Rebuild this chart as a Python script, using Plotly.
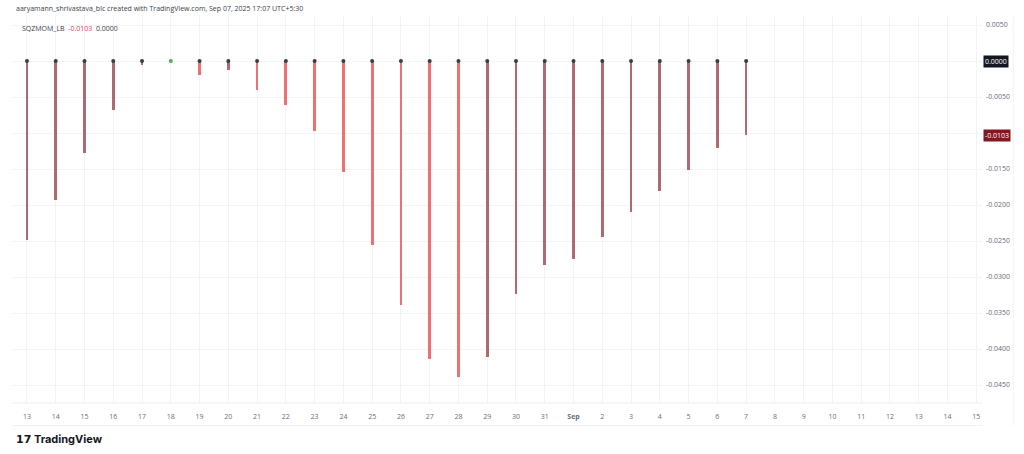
import plotly.graph_objects as go

# ---- data ----
day_labels = ["13", "14", "15", "16", "17", "18", "19", "20", "21", "22", "23", "24",
              "25", "26", "27", "28", "29", "30", "31", "Sep", "2", "3", "4", "5",
              "6", "7", "8", "9", "10", "11", "12", "13", "14", "15"]
momentum = [-0.0249, -0.0193, -0.0128, -0.0068, -0.0005, -0.0000, -0.0019, -0.0013,
            -0.0040, -0.0061, -0.0097, -0.0154, -0.0256, -0.0339, -0.0414, -0.0439,
            -0.0411, -0.0324, -0.0283, -0.0275, -0.0244, -0.0210, -0.0181, -0.0151,
            -0.0121, -0.0103]
squeeze_on = [True, True, True, True, True, False, True, True, True, True, True, True,
              True, True, True, True, True, True, True, True, True, True, True, True,
              True, True]
price_ticks = [0.005, 0.0, -0.005, -0.01, -0.015, -0.02, -0.025, -0.03, -0.035,
               -0.04, -0.045]
last_value = -0.0103

# ---- styling ----
RED = "#ef7070"
MAROON = "#ad6a70"
x_idx = list(range(len(momentum)))
bar_colors = []
for i, v in enumerate(momentum):
    if i > 0 and v < momentum[i - 1]:
        bar_colors.append(RED)
    else:
        bar_colors.append(MAROON)
dot_colors = ["#3a3d47" if s else "#4caf50" for s in squeeze_on]

fig = go.Figure()
fig.add_trace(go.Bar(x=x_idx, y=momentum, width=0.095, marker=dict(color=bar_colors, line=dict(width=0)),
                     hoverinfo="y"))
fig.add_trace(go.Scatter(x=x_idx, y=[0] * len(momentum), mode="markers",
                         marker=dict(size=4, color=dot_colors), hoverinfo="skip"))

tick_text = []
for v in price_ticks:
    if abs(v) < 1e-12 or abs(v + 0.01) < 1e-12:
        tick_text.append("")
    else:
        tick_text.append(f"{v:.4f}")

x_text = ["<b>Sep</b>" if t == "Sep" else t for t in day_labels]

fig.update_layout(
    width=1024, height=454,
    margin=dict(l=12, r=42, t=15, b=51, autoexpand=False),
    paper_bgcolor="white", plot_bgcolor="white",
    showlegend=False,
    bargap=0,
    font=dict(family="Open Sans, DejaVu Sans, sans-serif", size=7, color="#6a6d78"),
    xaxis=dict(range=[-0.52, 33.2], tickmode="array", tickvals=list(range(len(day_labels))),
               ticktext=x_text, showgrid=True, gridcolor="#f2f3f6", gridwidth=1,
               zeroline=False, showline=False, ticks="", tickfont=dict(size=7, color="#6a6d78"),
               ticklabelstandoff=8, automargin=False, fixedrange=True),
    yaxis=dict(side="right", range=[-0.0475, 0.00639], tickmode="array", tickvals=price_ticks,
               ticktext=tick_text, showgrid=True, gridcolor="#f2f3f6", gridwidth=1,
               zeroline=False, showline=False, ticks="", tickfont=dict(size=7, color="#6a6d78"),
               ticklabelstandoff=3, automargin=False, fixedrange=True),
)

# separator lines around time axis and price scale
fig.add_shape(type="line", xref="paper", yref="paper", x0=0, x1=1.0, y0=0, y1=0,
              line=dict(color="#eceef2", width=1))
fig.add_shape(type="line", xref="paper", yref="paper", x0=0, x1=1.0, y0=-0.058, y1=-0.058,
              line=dict(color="#f0f1f4", width=1))
fig.add_shape(type="line", xref="paper", yref="paper", x0=1.0322, x1=1.0322, y0=-0.058, y1=1,
              line=dict(color="#f0f1f4", width=1))

# header texts
fig.add_annotation(xref="paper", yref="paper", x=0.0, y=1.0, yshift=7, xanchor="left", yanchor="middle",
                   text="aaryamann_shrivastava_blc created with TradingView.com, Sep 07, 2025 17:07 UTC+5:30",
                   showarrow=False, xshift=2, font=dict(size=7, color="#3b3e48"))
fig.add_annotation(xref="paper", yref="paper", x=0.0, y=1.0, yshift=-13, xanchor="left", yanchor="middle",
                   text=f"SQZMOM_LB  <span style='color:#d9434f'>{last_value:.4f}</span>  "
                        f"<span style='color:#3b3e48'>{0:.4f}</span>",
                   showarrow=False, xshift=8, font=dict(size=7, color="#3b3e48"))

# price-scale value badges
fig.add_annotation(xref="paper", yref="y", x=1.0, y=0.0, xanchor="left", yanchor="middle",
                   text=f"{0:.4f}", showarrow=False, xshift=1, bgcolor="#131722",
                   font=dict(size=7, color="white"), borderpad=1)
fig.add_annotation(xref="paper", yref="y", x=1.0, y=last_value, xanchor="left", yanchor="middle",
                   text=f"{last_value:.4f}", showarrow=False, xshift=1, bgcolor="#801922",
                   font=dict(size=7, color="white"), borderpad=1)

# TradingView logo
fig.add_annotation(xref="paper", yref="paper", x=0.0, y=0, yshift=-36, xanchor="left", yanchor="middle",
                   text="<b>𝟭𝟳 TradingView</b>", showarrow=False, xshift=2,
                   font=dict(size=11, color="#131722", family="Inter, DejaVu Sans, sans-serif"))

fig.write_html("out.html", post_script="document.body.style.margin='0';",
               config={"displayModeBar": False})
